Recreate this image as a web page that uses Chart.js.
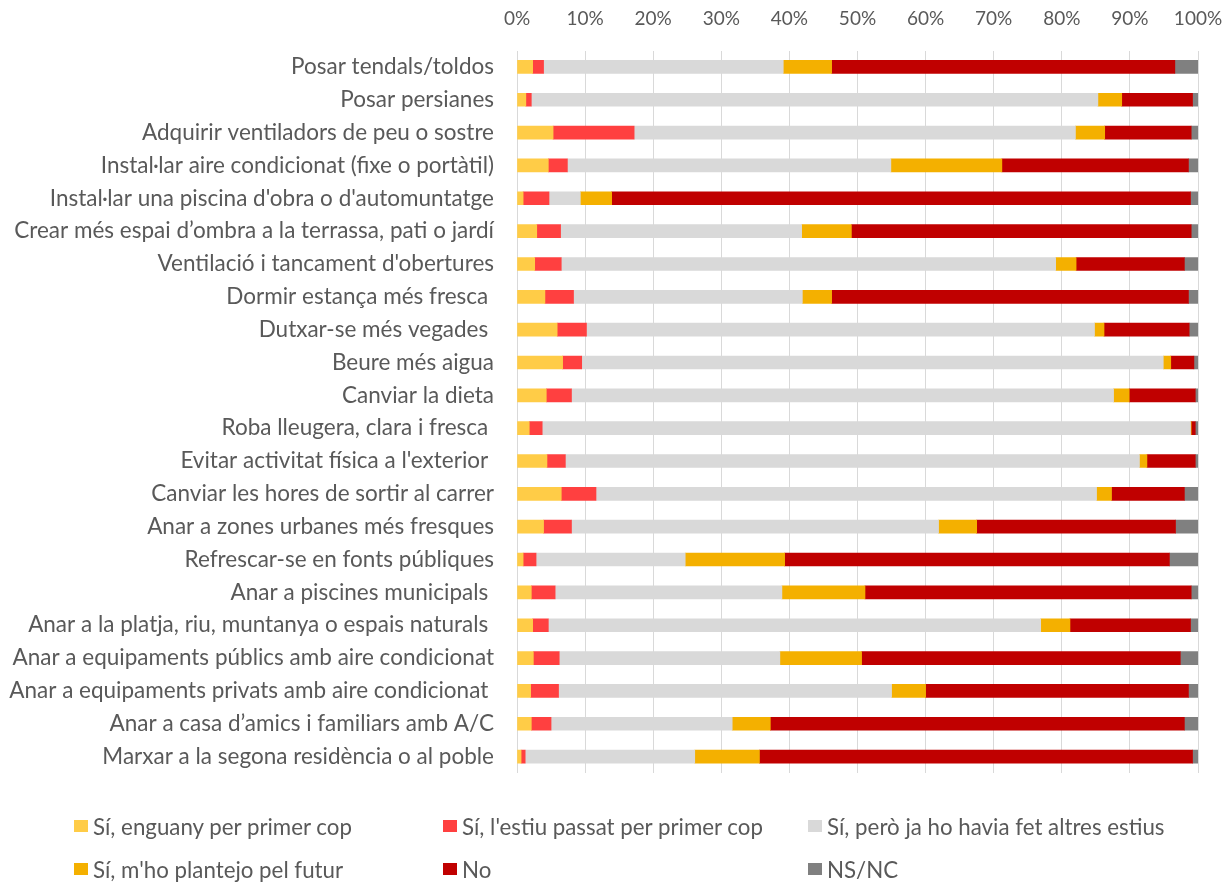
<!DOCTYPE html>
<html>
<head>
<meta charset="utf-8">
<script src="https://cdn.jsdelivr.net/npm/chart.js@4.4.0/dist/chart.umd.min.js"></script>
<style>
  html, body { margin: 0; padding: 0; background: #fff; }
  #wrap { position: relative; width: 1226px; height: 882px; }
  #legend { position: absolute; left: 0; top: 0; width: 1226px; height: 882px; pointer-events: none; font-family: Lato, sans-serif; font-size: 22.3px; color: #595959; }
  .li { position: absolute; white-space: nowrap; display: flex; align-items: center; height: 28px; }
  .li span.box { display: inline-block; width: 14px; height: 12px; margin-right: 5px; }
</style>
</head>
<body>
<div id="wrap">
  <canvas id="c" width="1226" height="882"></canvas>
  <div id="legend"></div>
</div>
<script>
const categories = [
  "Posar tendals/toldos",
  "Posar persianes",
  "Adquirir ventiladors de peu o sostre",
  "Instal·lar aire condicionat (fixe o portàtil)",
  "Instal·lar una piscina d'obra o d'automuntatge",
  "Crear més espai d’ombra a la terrassa, pati o jardí",
  "Ventilació i tancament d'obertures",
  "Dormir estança més fresca ",
  "Dutxar-se més vegades ",
  "Beure més aigua",
  "Canviar la dieta",
  "Roba lleugera, clara i fresca ",
  "Evitar activitat física a l'exterior ",
  "Canviar les hores de sortir al carrer",
  "Anar a zones urbanes més fresques",
  "Refrescar-se en fonts públiques",
  "Anar a piscines municipals ",
  "Anar a la platja, riu, muntanya o espais naturals ",
  "Anar a equipaments públics amb aire condicionat",
  "Anar a equipaments privats amb aire condicionat ",
  "Anar a casa d’amics i familiars amb A/C",
  "Marxar a la segona residència o al poble"
];
const seriesNames = [
  "Sí, enguany per primer cop",
  "Sí, l'estiu passat per primer cop",
  "Sí, però ja ho havia fet altres estius",
  "Sí, m'ho plantejo pel futur",
  "No",
  "NS/NC"
];
const enguany     = [2.3,1.3,5.3,4.6,0.9,2.9,2.6,4.1,5.9,6.7,4.3,1.8,4.4,6.5,3.9,0.9,2.1,2.3,2.4,2.0,2.1,0.6];
const estiuPassat = [1.6,0.8,11.9,2.8,3.8,3.5,3.9,4.2,4.3,2.8,3.7,1.9,2.7,5.1,4.1,1.9,3.5,2.3,3.8,4.1,2.9,0.6];
const jaFet       = [35.2,83.2,64.8,47.5,4.6,35.4,72.6,33.6,74.6,85.4,79.6,95.2,84.3,73.5,53.9,21.9,33.3,72.3,32.4,48.9,26.6,24.9];
const futur       = [7.1,3.5,4.3,16.3,4.6,7.3,3.0,4.3,1.4,1.1,2.3,0.1,1.1,2.2,5.6,14.6,12.2,4.3,12.0,5.0,5.6,9.5];
const noVals      = [50.4,10.4,12.7,27.4,85.0,49.9,15.9,52.4,12.5,3.4,9.7,0.6,7.1,10.7,29.2,56.5,47.9,17.7,46.8,38.6,60.8,63.6];
const nsnc        = [3.4,0.8,1.0,1.4,1.1,1.0,2.0,1.4,1.3,0.6,0.4,0.4,0.4,2.0,3.3,4.2,1.0,1.1,2.6,1.4,2.0,0.8];
const xTicks = [0,10,20,30,40,50,60,70,80,90,100];
const colors = ["#FFCC47","#FF4040","#D9D9D9","#F4B000","#C00000","#808080"];

const allSeries = [enguany, estiuPassat, jaFet, futur, noVals, nsnc];
const datasets = allSeries.map((d, i) => ({
  label: seriesNames[i],
  data: d,
  backgroundColor: colors[i],
  borderWidth: 0,
  barThickness: 13
}));

const FONT = "Lato, sans-serif";
new Chart(document.getElementById('c'), {
  type: 'bar',
  data: { labels: categories, datasets },
  options: {
    indexAxis: 'y',
    responsive: false,
    animation: false,
    layout: { padding: { left: 0, right: 28, top: 0, bottom: 109 } },
    plugins: { legend: { display: false }, tooltip: { enabled: false } },
    scales: {
      x: {
        position: 'top',
        stacked: true,
        min: 0, max: 100,
        afterBuildTicks: (s) => { s.ticks = xTicks.map(v => ({ value: v })); },
        afterFit: (s) => { s.height = 50.5; s.paddingLeft = 0; s.paddingRight = 0; },
        ticks: { callback: v => v + '%', color: '#595959', font: { family: FONT, size: 19 }, padding: 20 },
        grid: { color: '#D9D9D9', lineWidth: 1, drawTicks: false },
        border: { display: false }
      },
      y: {
        stacked: true,
        afterFit: (s) => { s.width = 517; s.paddingTop = 0; s.paddingBottom = 0; },
        ticks: { color: '#595959', font: { family: FONT, size: 22.5 }, padding: 23, autoSkip: false },
        grid: { display: false, drawTicks: false },
        border: { display: false }
      }
    }
  }
});

const legendPos = [[74,812],[443,812],[808,812],[74,855],[443,855],[808,855]];
const lg = document.getElementById('legend');
seriesNames.forEach((n, i) => {
  const d = document.createElement('div');
  d.className = 'li';
  d.style.left = legendPos[i][0] + 'px';
  d.style.top = legendPos[i][1] + 'px';
  d.innerHTML = '<span class="box" style="background:' + colors[i] + '"></span><span></span>';
  d.lastChild.textContent = n;
  lg.appendChild(d);
});
</script>
</body>
</html>
